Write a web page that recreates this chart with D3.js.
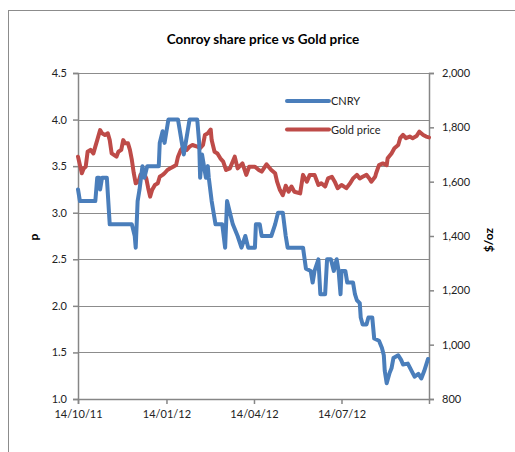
<!DOCTYPE html>
<html><head><meta charset="utf-8">
<script src="https://cdn.jsdelivr.net/npm/d3@7"></script>
<style>body{margin:0;background:#fff;} svg{display:block;}</style>
</head><body>
<svg id="c" width="515" height="452"></svg>
<script>
const titleText = "Conroy share price vs Gold price";
const leftTicks = [1.0,1.5,2.0,2.5,3.0,3.5,4.0,4.5];
const rightTicks = [800,1000,1200,1400,1600,1800,2000];
const xTickDates = ["2011-10-14","2012-01-14","2012-04-14","2012-07-14"];
const xDomain = ["2011-10-14","2012-10-13"];

const cnryDates = ["2011-10-14","2011-10-16","2011-11-01","2011-11-03","2011-11-05","2011-11-06","2011-11-08","2011-11-13","2011-11-16","2011-12-09","2011-12-12","2011-12-13","2011-12-15","2011-12-17","2011-12-20","2011-12-22","2011-12-25","2012-01-06","2012-01-07","2012-01-10","2012-01-12","2012-01-14","2012-01-16","2012-01-26","2012-01-28","2012-01-30","2012-02-01","2012-02-03","2012-02-05","2012-02-07","2012-02-15","2012-02-17","2012-02-18","2012-02-20","2012-02-22","2012-02-24","2012-02-26","2012-02-27","2012-03-01","2012-03-03","2012-03-05","2012-03-12","2012-03-15","2012-03-17","2012-03-20","2012-03-23","2012-03-28","2012-04-01","2012-04-05","2012-04-08","2012-04-15","2012-04-16","2012-04-20","2012-04-22","2012-05-02","2012-05-06","2012-05-09","2012-05-14","2012-05-17","2012-05-19","2012-06-04","2012-06-07","2012-06-12","2012-06-14","2012-06-16","2012-06-20","2012-06-22","2012-06-27","2012-06-29","2012-07-03","2012-07-06","2012-07-09","2012-07-11","2012-07-13","2012-07-14","2012-07-18","2012-07-20","2012-07-26","2012-07-28","2012-07-30","2012-08-02","2012-08-03","2012-08-05","2012-08-09","2012-08-11","2012-08-15","2012-08-17","2012-08-22","2012-08-25","2012-08-27","2012-08-28","2012-08-30","2012-09-02","2012-09-04","2012-09-06","2012-09-11","2012-09-14","2012-09-16","2012-09-21","2012-09-25","2012-09-28","2012-10-02","2012-10-05","2012-10-08","2012-10-12"];
const cnryValues = [3.25,3.125,3.125,3.375,3.375,3.25,3.375,3.375,2.875,2.875,2.75,2.625,3.125,3.25,3.5,3.375,3.5,3.5,3.75,3.875,3.75,3.875,4.0,4.0,3.875,3.75,3.625,3.75,3.875,4.0,4.0,3.75,3.375,3.625,3.5,3.375,3.5,3.375,3.125,3.0,2.875,2.875,2.625,3.125,3.0,2.875,2.75,2.625,2.75,2.625,2.625,2.875,2.875,2.75,2.75,2.875,3.0,3.0,2.75,2.625,2.625,2.4,2.375,2.25,2.375,2.5,2.125,2.125,2.5,2.5,2.375,2.5,2.375,2.125,2.375,2.375,2.25,2.25,2.125,2.06,2.03,1.875,1.8,1.8,1.875,1.875,1.65,1.625,1.55,1.47,1.3,1.17,1.28,1.33,1.44,1.47,1.42,1.37,1.38,1.3,1.24,1.27,1.22,1.3,1.43];

const goldDates = ["2011-10-14","2011-10-16","2011-10-18","2011-10-20","2011-10-22","2011-10-24","2011-10-27","2011-10-30","2011-11-01","2011-11-03","2011-11-06","2011-11-08","2011-11-11","2011-11-14","2011-11-16","2011-11-18","2011-11-23","2011-11-25","2011-11-28","2011-11-30","2011-12-02","2011-12-05","2011-12-07","2011-12-09","2011-12-11","2011-12-13","2011-12-16","2011-12-18","2011-12-21","2011-12-24","2011-12-26","2011-12-28","2011-12-30","2012-01-02","2012-01-05","2012-01-07","2012-01-10","2012-01-12","2012-01-15","2012-01-18","2012-01-21","2012-01-24","2012-01-26","2012-01-29","2012-02-01","2012-02-04","2012-02-07","2012-02-10","2012-02-15","2012-02-18","2012-02-21","2012-02-23","2012-02-26","2012-02-29","2012-03-01","2012-03-04","2012-03-07","2012-03-10","2012-03-13","2012-03-16","2012-03-20","2012-03-25","2012-03-28","2012-04-02","2012-04-06","2012-04-09","2012-04-15","2012-04-19","2012-04-22","2012-04-27","2012-05-02","2012-05-06","2012-05-08","2012-05-11","2012-05-14","2012-05-17","2012-05-20","2012-05-23","2012-05-26","2012-06-01","2012-06-04","2012-06-08","2012-06-11","2012-06-16","2012-06-20","2012-06-23","2012-06-27","2012-06-30","2012-07-04","2012-07-07","2012-07-10","2012-07-14","2012-07-19","2012-07-23","2012-07-26","2012-07-30","2012-08-02","2012-08-05","2012-08-09","2012-08-12","2012-08-14","2012-08-18","2012-08-19","2012-08-22","2012-08-26","2012-08-30","2012-08-31","2012-09-04","2012-09-07","2012-09-11","2012-09-13","2012-09-16","2012-09-19","2012-09-23","2012-09-26","2012-09-30","2012-10-03","2012-10-07","2012-10-10","2012-10-13"];
const goldValues = [1692,1661,1631,1649,1655,1710,1717,1704,1729,1753,1790,1778,1772,1778,1753,1704,1692,1710,1717,1753,1741,1741,1717,1680,1631,1594,1600,1625,1637,1612,1576,1545,1569,1588,1594,1618,1625,1631,1643,1649,1655,1661,1692,1717,1729,1717,1729,1735,1729,1723,1735,1772,1778,1792,1753,1710,1704,1686,1674,1643,1649,1692,1649,1667,1625,1655,1655,1643,1637,1664,1643,1631,1600,1569,1550,1585,1563,1582,1563,1557,1625,1600,1625,1625,1588,1594,1582,1612,1618,1600,1576,1588,1576,1594,1612,1625,1612,1618,1625,1612,1600,1618,1631,1661,1667,1661,1686,1704,1723,1735,1760,1772,1760,1766,1760,1768,1784,1772,1766,1763];

const legendLabels = ["CNRY","Gold price"];
const colors = ["#4a7ebb","#be4b48"];

const parse = d3.timeParse("%Y-%m-%d");
const fmtX = d3.timeFormat("%d/%m/%y");
const svg = d3.select("#c");
const font = "Lato, 'Open Sans', sans-serif";

// outer chart frame
svg.append("rect").attr("x",8.5).attr("y",10.5).attr("width",600).attr("height",600)
  .attr("fill","none").attr("stroke","#8c8c8c").attr("stroke-width",1);

const L=78, R=429, T=73, B=399;
const x = d3.scaleTime().domain(xDomain.map(parse)).range([L,R]);
const yL = d3.scaleLinear().domain([1.0,4.5]).range([B,T]);
const yR = d3.scaleLinear().domain([800,2000]).range([B,T]);

// gridlines
svg.append("g").selectAll("line").data(leftTicks.slice(1)).join("line")
  .attr("x1",L).attr("x2",R).attr("y1",d=>Math.round(yL(d))+0.5).attr("y2",d=>Math.round(yL(d))+0.5)
  .attr("stroke","#8c8c8c").attr("stroke-width",1);

// axes
const axL = svg.append("g").attr("transform",`translate(${L},0)`)
  .call(d3.axisLeft(yL).tickValues(leftTicks).tickFormat(d3.format(".1f")).tickSizeOuter(0).tickSize(5).tickPadding(6));
const axR = svg.append("g").attr("transform",`translate(${R},0)`)
  .call(d3.axisRight(yR).tickValues(rightTicks).tickFormat(d3.format(",")).tickSizeOuter(0).tickSize(5).tickPadding(8));
const axB = svg.append("g").attr("transform",`translate(0,${B})`)
  .call(d3.axisBottom(x).tickValues(xTickDates.map(parse)).tickFormat(fmtX).tickSizeOuter(0).tickSize(5).tickPadding(6));
[axL,axR,axB].forEach(g=>{
  g.selectAll("path.domain").attr("stroke","#868686").attr("stroke-width",1.5);
  g.selectAll(".tick line").attr("stroke","#868686").attr("stroke-width",1.5);
  g.selectAll("text").attr("font-family",font).attr("font-size",11).attr("fill","#222");
});

// series lines
const lineC = d3.line().x((d,i)=>x(parse(cnryDates[i]))).y(d=>yL(d));
const lineG = d3.line().x((d,i)=>x(parse(goldDates[i]))).y(d=>yR(d));
svg.append("path").datum(goldValues).attr("d",lineG).attr("fill","none")
  .attr("stroke",colors[1]).attr("stroke-width",4).attr("stroke-linejoin","round").attr("stroke-linecap","round");
svg.append("path").datum(cnryValues).attr("d",lineC).attr("fill","none")
  .attr("stroke",colors[0]).attr("stroke-width",4).attr("stroke-linejoin","round").attr("stroke-linecap","round");

// title
svg.append("text").attr("x",263).attr("y",44).attr("text-anchor","middle")
  .attr("font-family",font).attr("font-weight","bold").attr("font-size",13.5).attr("fill","#000").text(titleText);

// axis titles
svg.append("text").attr("transform","translate(38,237) rotate(-90)").attr("text-anchor","middle")
  .attr("font-family",font).attr("font-weight","bold").attr("font-size",12).attr("fill","#000").text("p");
svg.append("text").attr("transform","translate(493,240) rotate(-90)").attr("text-anchor","middle")
  .attr("font-family",font).attr("font-weight","bold").attr("font-size",12).attr("fill","#000").text("$/oz");

// legend
const lg = svg.append("g");
legendLabels.forEach((lab,i)=>{
  const yy = 101 + i*28.5;
  lg.append("line").attr("x1",287).attr("x2",329).attr("y1",yy).attr("y2",yy)
    .attr("stroke",colors[i]).attr("stroke-width",4).attr("stroke-linecap","round");
  lg.append("text").attr("x",331).attr("y",yy+4).attr("font-family",font).attr("font-size",11).attr("fill","#222").text(lab);
});
</script>
</body></html>
